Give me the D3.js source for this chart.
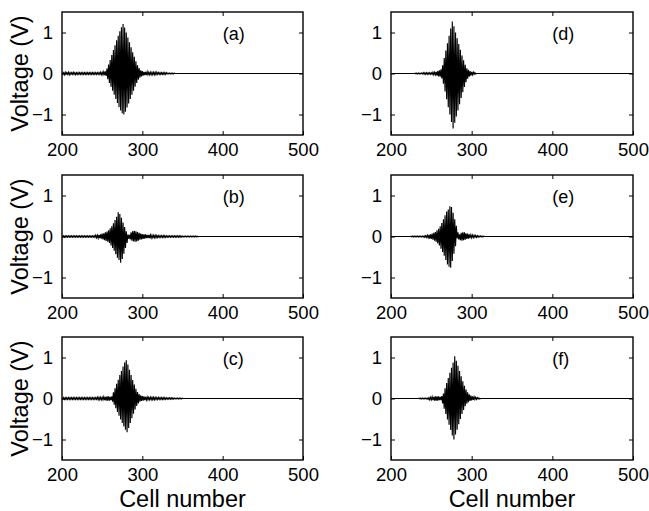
<!DOCTYPE html>
<html>
<head>
<meta charset="utf-8">
<script src="https://cdn.jsdelivr.net/npm/d3@7"></script>
<style>
  html, body { margin: 0; padding: 0; background: #fff; }
  svg { display: block; }
  text { font-family: "Liberation Sans", Arial, Helvetica, sans-serif; fill: #000; }
</style>
</head>
<body>
<svg id="chart" width="649" height="511"></svg>
<script>
// Node voltage along the line at each cell, one value per cell starting at firstCell*.
// Cells outside each listed stretch sit at 0 V.
const xTicks = [200, 300, 400, 500];
const yTicks = [-1, 0, 1];
const panelLabels = ["(a)", "(b)", "(c)", "(d)", "(e)", "(f)"];

const firstCellA = 200;
const voltsA = [
  0.02,-0.02,0.02,-0.03,0.03,-0.02,0.02,-0.02,0.03,-0.03,
  0.02,-0.02,0.02,-0.02,0.03,-0.02,0.02,-0.03,0.02,-0.02,
  0.02,-0.02,0.02,-0.02,0.02,-0.02,0.02,-0.02,0.02,-0.02,
  0.02,-0.02,0.02,-0.02,0.02,-0.02,0.02,-0.02,0.02,-0.02,
  0.02,-0.02,0.02,-0.02,0.02,-0.02,0.02,-0.02,0.03,-0.03,
  0.03,-0.03,0.04,-0.04,0.05,-0.06,
  0.12,-0.14,0.22,-0.23,0.33,-0.32,0.45,-0.42,0.57,-0.52,
  0.69,-0.62,0.81,-0.72,0.92,-0.82,1.03,-0.90,1.13,-0.97,
  1.21,-1.00,1.12,-0.93,1.00,-0.83,0.88,-0.73,0.76,-0.62,
  0.64,-0.52,0.52,-0.42,0.41,-0.32,0.30,-0.23,0.20,-0.15,
  0.13,-0.10,0.08,-0.07,0.06,-0.05,0.04,-0.04,0.04,-0.04,
  0.04,-0.03,0.03,-0.03,0.03,-0.03,0.03,-0.03,0.03,-0.03,
  0.03,-0.03,0.03,-0.02,0.02,-0.02,0.02,-0.02,0.02,-0.02,
  0.02,-0.02,0.02,-0.02,0.02,-0.01,0.01,-0.01,0.01,-0.01,
  0.01,-0.01,0.01,-0.01,0.01
];

const firstCellB = 200;
const voltsB = [
  0.015,-0.015,0.015,-0.015,0.015,-0.015,0.015,-0.015,0.015,-0.015,
  0.015,-0.015,0.015,-0.015,0.015,-0.015,0.015,-0.015,0.015,-0.015,
  0.015,-0.015,0.015,-0.015,0.015,-0.015,0.015,-0.015,0.015,-0.015,
  0.015,-0.015,0.015,-0.015,0.015,-0.015,0.015,-0.015,0.015,-0.015,
  0.02,-0.02,0.03,-0.03,0.03,-0.04,0.04,-0.04,0.05,-0.05,
  0.07,-0.07,0.08,-0.09,0.10,-0.11,0.12,-0.13,0.15,-0.16,
  0.20,-0.22,0.25,-0.28,0.32,-0.35,0.40,-0.43,0.48,-0.52,
  0.59,-0.57,0.55,-0.64,0.46,-0.55,0.34,-0.42,0.23,-0.28,
  0.13,-0.16,0.05,-0.05,0.04,-0.07,0.10,-0.10,0.13,-0.12,
  0.14,-0.13,0.13,-0.12,0.11,-0.10,0.09,-0.08,0.07,-0.07,
  0.06,-0.06,0.05,-0.05,0.05,-0.04,0.04,-0.04,0.04,-0.04,
  0.035,-0.035,0.03,-0.03,0.03,-0.03,0.03,-0.03,0.025,-0.025,
  0.02,-0.02,0.02,-0.02,0.02,-0.02,0.02,-0.02,0.02,-0.02,
  0.015,-0.015,0.015,-0.015,0.015,-0.015,0.015,-0.015,0.015,-0.015,
  0.015,-0.015,0.015,-0.015,0.015,-0.015,0.015,-0.015,0.015,-0.015,
  0.01,-0.01,0.01,-0.01,0.01,-0.01,0.01,-0.01,0.01,-0.01,
  0.01,-0.01,0.01,-0.01,0.01,-0.01,0.01,-0.01,0.01,-0.01
];

const firstCellC = 200;
const voltsC = [
  0.02,-0.02,0.02,-0.02,0.02,-0.02,0.02,-0.02,0.02,-0.02,
  0.02,-0.02,0.02,-0.02,0.02,-0.02,0.02,-0.02,0.02,-0.02,
  0.02,-0.02,0.02,-0.02,0.02,-0.02,0.02,-0.02,0.02,-0.02,
  0.02,-0.02,0.02,-0.02,0.02,-0.02,0.02,-0.02,0.02,-0.02,
  0.02,-0.02,0.02,-0.02,0.03,-0.03,0.03,-0.03,0.03,-0.03,
  0.03,-0.03,0.04,-0.04,0.04,-0.05,0.05,-0.05,0.05,-0.05,
  0.04,-0.04,0.05,-0.08,
  0.15,-0.15,0.25,-0.24,0.36,-0.33,0.46,-0.42,0.57,-0.51,
  0.67,-0.60,0.78,-0.68,0.88,-0.76,0.93,-0.82,0.83,-0.72,
  0.70,-0.60,0.57,-0.48,0.45,-0.37,0.34,-0.27,0.24,-0.18,
  0.16,-0.12,0.11,-0.08,0.08,-0.06,0.06,-0.05,0.05,-0.04,
  0.04,-0.035,0.035,-0.03,0.03,-0.03,0.03,-0.03,0.03,-0.03,
  0.03,-0.03,0.025,-0.025,0.025,-0.025,0.025,-0.02,0.02,-0.02,
  0.02,-0.02,0.02,-0.02,0.02,-0.02,0.015,-0.015,0.015,-0.015,
  0.015,-0.015,0.015,-0.015,0.015,-0.015,0.01,-0.01,0.01,-0.01,
  0.01,-0.01,0.01,-0.01,0.01,-0.01,0.01
];

const firstCellD = 230;
const voltsD = [
  0.01,-0.01,0.01,-0.01,0.01,-0.01,0.01,-0.01,0.01,-0.01,
  0.02,-0.02,0.02,-0.02,0.02,-0.02,0.02,-0.02,0.02,-0.02,
  0.02,-0.02,0.03,-0.03,0.03,-0.03,0.04,-0.05,
  0.06,-0.07,0.08,-0.08,0.10,-0.12,
  0.20,-0.25,0.38,-0.44,0.56,-0.63,0.74,-0.82,0.92,-1.00,
  1.10,-1.18,1.27,-1.34,1.15,-1.20,1.00,-1.05,0.86,-0.90,
  0.72,-0.75,0.58,-0.60,0.44,-0.46,0.32,-0.33,0.21,-0.21,
  0.13,-0.13,0.09,-0.08,0.06,-0.05,0.04,-0.03,0.03,-0.02,
  0.02,-0.01
];

const firstCellE = 225;
const voltsE = [
  0.01,-0.01,0.01,-0.01,0.01,-0.01,0.01,-0.01,0.01,-0.01,
  0.01,-0.01,0.01,-0.01,0.01,
  -0.015,0.015,-0.02,0.02,-0.02,0.03,-0.03,0.04,-0.05,0.05,
  -0.06,0.07,-0.08,0.09,-0.10,0.11,-0.13,0.15,-0.17,0.19,
  -0.22,0.25,-0.30,0.33,-0.38,0.42,-0.47,0.52,-0.57,0.61,
  -0.68,0.66,-0.74,0.74,-0.76,0.72,-0.60,0.58,-0.42,0.42,
  -0.24,0.26,-0.05,0.10,-0.07,0.05,-0.09,0.09,-0.10,0.10,
  -0.09,0.10,-0.08,0.08,-0.06,0.07,-0.05,0.05,-0.04,0.04,
  -0.03,0.035,-0.025,0.03,-0.02,0.025,-0.02,0.02,-0.015,0.015,
  -0.01,0.015,-0.01,0.01,-0.01,0.01
];

const firstCellF = 235;
const voltsF = [
  0.01,-0.01,0.01,-0.01,0.01,-0.01,0.01,-0.01,0.01,-0.01,
  0.01,
  -0.02,0.02,-0.03,0.03,-0.03,0.04,-0.04,0.04,-0.05,0.05,
  -0.05,0.05,-0.05,0.05,-0.04,0.04,-0.04,0.06,
  -0.12,0.12,-0.25,0.25,-0.38,0.38,-0.51,0.50,-0.64,0.63,
  -0.77,0.75,-0.90,0.88,-1.00,1.03,-0.88,0.92,-0.76,0.80,
  -0.63,0.67,-0.50,0.54,-0.38,0.42,-0.28,0.31,-0.19,0.22,
  -0.13,0.15,-0.09,0.10,-0.06,0.07,-0.045,0.05,-0.035,0.04,
  -0.025,0.03,-0.02,0.02,-0.01,0.015,-0.01
];

// Layout: two columns by three rows of framed axes
const colLeft = [62, 391];
const colWidth = [241, 242];
const rowTop = [12, 175, 337];
const rowHeight = 123;

const panels = [
  { label: panelLabels[0], first: firstCellA, volts: voltsA, col: 0, row: 0 },
  { label: panelLabels[1], first: firstCellB, volts: voltsB, col: 0, row: 1 },
  { label: panelLabels[2], first: firstCellC, volts: voltsC, col: 0, row: 2 },
  { label: panelLabels[3], first: firstCellD, volts: voltsD, col: 1, row: 0 },
  { label: panelLabels[4], first: firstCellE, volts: voltsE, col: 1, row: 1 },
  { label: panelLabels[5], first: firstCellF, volts: voltsF, col: 1, row: 2 }
];

const svg = d3.select("#chart");
const tickLen = 4;
const fmtY = d3.format("d");

panels.forEach((p, i) => {
  const x0 = colLeft[p.col], w = colWidth[p.col];
  const y0 = rowTop[p.row], h = rowHeight;
  const x = d3.scaleLinear().domain([200, 500]).range([0, w]);
  const y = d3.scaleLinear().domain([-1.5, 1.5]).range([h, 0]);

  const g = svg.append("g").attr("transform", `translate(${x0},${y0})`);

  const clipId = "clip" + i;
  g.append("clipPath").attr("id", clipId)
    .append("rect").attr("width", w).attr("height", h);

  // trace: listed cells, flat 0 V elsewhere across the window
  const pts = [];
  if (p.first > 200) pts.push([200, 0], [p.first - 1, 0]);
  p.volts.forEach((v, k) => pts.push([p.first + k, v]));
  const lastCell = p.first + p.volts.length - 1;
  if (lastCell < 500) pts.push([lastCell + 1, 0], [500, 0]);

  const line = d3.line().x(d => x(d[0])).y(d => y(d[1]));
  g.append("path")
    .attr("clip-path", `url(#${clipId})`)
    .attr("d", line(pts))
    .attr("fill", "none")
    .attr("stroke", "#000")
    .attr("stroke-width", 1.15)
    .attr("stroke-linejoin", "miter");

  // axes with inward ticks on all four sides
  const fontPx = "18.5px";
  const bottom = g.append("g").attr("transform", `translate(0,${h})`)
    .call(d3.axisBottom(x).tickValues(xTicks).tickSize(-tickLen).tickPadding(7));
  bottom.selectAll("text").style("font-size", fontPx).attr("dy", "0.75em");
  g.append("g")
    .call(d3.axisTop(x).tickValues(xTicks.slice(1, 3)).tickSize(-tickLen).tickFormat(""));
  const left = g.append("g")
    .call(d3.axisLeft(y).tickValues(yTicks).tickSize(-tickLen).tickPadding(9).tickFormat(d => fmtY(d)));
  left.selectAll("text").style("font-size", fontPx);
  g.append("g").attr("transform", `translate(${w},0)`)
    .call(d3.axisRight(y).tickValues(yTicks).tickSize(-tickLen).tickFormat(""));

  g.selectAll(".domain").remove();
  g.selectAll(".tick line").attr("stroke", "#000").attr("stroke-width", 1);

  // frame
  g.append("rect")
    .attr("width", w).attr("height", h)
    .attr("fill", "none").attr("stroke", "#000").attr("stroke-width", 1.4);

  g.append("text")
    .attr("x", x(400)).attr("y", 28)
    .style("font-size", "18px")
    .text(p.label);

  if (p.col === 0) {
    svg.append("text")
      .attr("transform", `translate(28,${y0 + h / 2}) rotate(-90)`)
      .attr("text-anchor", "middle")
      .style("font-size", "23.5px")
      .text("Voltage (V)");
  }
  if (p.row === 2) {
    svg.append("text")
      .attr("x", x0 + w / 2).attr("y", 507)
      .attr("text-anchor", "middle")
      .style("font-size", "23.5px")
      .text("Cell number");
  }
});
</script>
</body>
</html>
